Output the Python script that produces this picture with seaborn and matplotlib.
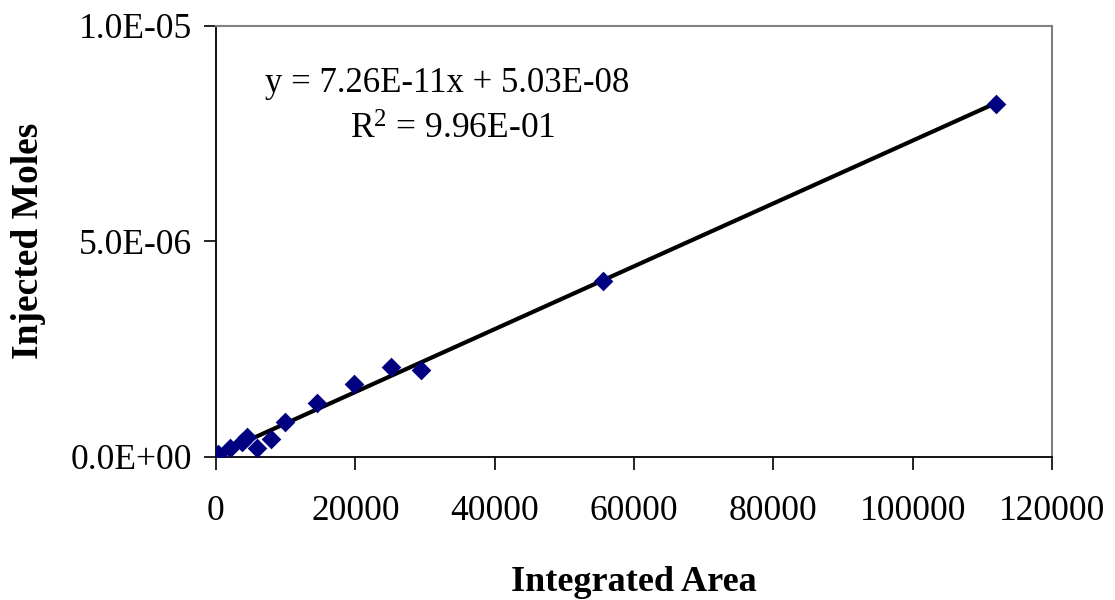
import matplotlib
matplotlib.use("Agg")
import matplotlib.pyplot as plt
import matplotlib.ticker as mticker
import seaborn as sns
import pandas as pd

# Data
integrated_area = [300, 2000, 3700, 4400, 5900, 7900, 9900, 14500, 19800, 25100, 29500, 55500, 112000]
injected_moles = [5e-8, 1.9e-7, 3.45e-7, 4.5e-7, 1.9e-7, 4.1e-7, 8.0e-7, 1.24e-6, 1.68e-6, 2.09e-6, 2.02e-6, 4.07e-6, 8.19e-6]

x_ticks = [0, 20000, 40000, 60000, 80000, 100000, 120000]
y_ticks = [0.0, 5.0e-6, 1.0e-5]
equation_text = "y = 7.26E-11x + 5.03E-08"
r2_text = "R$^{2}$ = 9.96E-01"
x_label = "Integrated Area"
y_label = "Injected Moles"

df = pd.DataFrame({"area": integrated_area, "moles": injected_moles})

sns.set_theme(style="white")
plt.rcParams["font.family"] = ["Liberation Serif", "DejaVu Serif"]
plt.rcParams["mathtext.fontset"] = "custom"
plt.rcParams["mathtext.rm"] = "Liberation Serif"
plt.rcParams["mathtext.default"] = "regular"
plt.rcParams["text.color"] = "black"
plt.rcParams["axes.labelcolor"] = "black"
plt.rcParams["xtick.color"] = "black"
plt.rcParams["ytick.color"] = "black"

fig = plt.figure(figsize=(11.15, 6.0), dpi=100)
ax = fig.add_axes([0.1937, 0.239, 0.9435 - 0.1937, 0.9567 - 0.239])

sns.regplot(data=df, x="area", y="moles", ax=ax, scatter=False, ci=None,
            truncate=True, line_kws=dict(color="black", lw=3.0, zorder=2))
sns.scatterplot(data=df, x="area", y="moles", ax=ax, marker="D", s=100,
                color="#000080", edgecolor="#000080", linewidth=0, zorder=3)

ax.set_xlim(0, 120000)
ax.set_ylim(0, 1.0e-5)
ax.set_xticks(x_ticks)
ax.set_yticks(y_ticks)
ax.yaxis.set_major_formatter(mticker.FuncFormatter(lambda v, p: "%.1E" % v))
ax.xaxis.set_major_formatter(mticker.FuncFormatter(lambda v, p: "%d" % v))

ax.tick_params(axis="both", direction="out", length=9, width=1.2, colors="black",
               labelsize=25.5, bottom=True, left=True)
ax.tick_params(axis="x", pad=19)
ax.tick_params(axis="y", pad=8)

for side in ["left", "bottom"]:
    ax.spines[side].set_color("black")
    ax.spines[side].set_linewidth(1.3)
for side in ["top", "right"]:
    ax.spines[side].set_color("#808080")
    ax.spines[side].set_linewidth(1.5)

ax.set_xlabel(x_label, fontsize=26, fontweight="bold", labelpad=27, color="black")
ax.set_ylabel(y_label, fontsize=27, fontweight="bold", labelpad=18, color="black")

ax.annotate(equation_text, xy=(265, 600 - 83), xycoords="figure pixels",
            fontsize=25, ha="left", va="center", color="black")
ax.annotate(r2_text, xy=(350, 600 - 130), xycoords="figure pixels",
            fontsize=25.5, ha="left", va="center", color="black")

fig.savefig("out.png", dpi=100)
